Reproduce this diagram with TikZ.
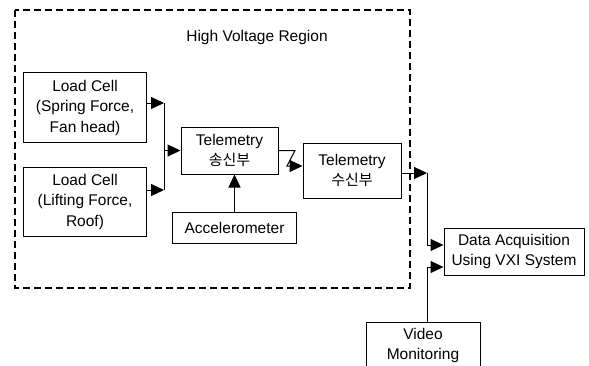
\documentclass[tikz,border=0pt]{standalone}
\usepackage{fontspec}
\setmainfont{Liberation Sans}
\newfontfamily\kr{Noto Sans CJK KR}
\usepackage{tikz}
\usetikzlibrary{arrows.meta,positioning}

\begin{document}
\begin{tikzpicture}[
    x=1pt, y=-1pt,
    font=\fontsize{15.5}{20.5}\selectfont,
    block/.style={rectangle, draw, line width=1pt, inner sep=0pt, align=center},
    arrow/.style={-{Triangle[length=13pt,width=12pt]}, line width=1pt},
    line/.style={line width=1pt},
    region/.style={draw, line width=2pt, dash pattern=on 7pt off 4pt}
]
\useasboundingbox (0,0) rectangle (589,365);

% High voltage side
\draw[region] (15,10) rectangle (410,288);
\node (title) at (257,37) {High Voltage Region};

% Sensors and telemetry
\node[block, minimum width=123pt, minimum height=70pt] (lc1) at (85,107.5) {Load Cell\\(Spring Force,\\Fan head)};
\node[block, minimum width=123pt, minimum height=69pt] (lc2) at (85,201.5) {Load Cell\\(Lifting Force,\\Roof)};
\node[block, minimum width=97pt, minimum height=47pt] (tx) at (229.5,150.5) {Telemetry\\{\kr\fontsize{15}{20.5}\selectfont 송신부}};
\node[block, minimum width=124pt, minimum height=31pt] (acc) at (234.5,227.5) {Accelerometer};
\node[block, minimum width=98pt, minimum height=55pt] (rx) at (352,170.5) {Telemetry\\{\kr\fontsize{15}{20.5}\selectfont 수신부}};

% Ground side
\node[block, minimum width=140pt, minimum height=47pt] (daq) at (514,251.5) {Data Acquisition\\Using VXI System};
\node[block, minimum width=114pt, minimum height=47pt] (vid) at (423,345.5) {Video\\Monitoring};

% Load cells into transmitter
\coordinate (jtop) at (164,103);
\coordinate (jbot) at (164,190);
\draw[arrow] (lc1.east |- jtop) -- (jtop);
\draw[arrow] (lc2.east |- jbot) -- (jbot);
\draw[line] (jtop) -- (jbot);
\draw[arrow] (jtop |- tx) -- (tx.west);
\draw[arrow] (acc.north) -- (acc.north |- tx.south);

% Radio link
\coordinate (k1) at (295,150.5);
\coordinate (k2) at (287,166);
\draw[arrow] (tx.east) -- (k1) -- (k2) -- (k2 -| rx.west);

% Into the acquisition system
\coordinate (jrx) at (427,173);
\coordinate (jdaq) at (427,245);
\coordinate (jvid) at (427,267);
\draw[arrow] (rx.east |- jrx) -- (jrx);
\draw[arrow] (jrx) -- (jdaq) -- (jdaq -| daq.west);
\draw[arrow] (jvid |- vid.north) -- (jvid) -- (jvid -| daq.west);

\end{tikzpicture}
\end{document}
